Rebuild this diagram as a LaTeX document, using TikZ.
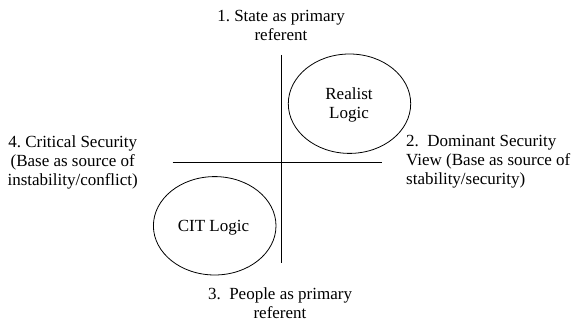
\documentclass[tikz,border=0pt]{standalone}
\usepackage{fontspec}
\setmainfont{Liberation Serif}
\usetikzlibrary{shapes.geometric}
\begin{document}\frenchspacing
\begin{tikzpicture}[x=1pt,y=1pt,
  lbl/.style={inner sep=0pt,anchor=base,font=\fontsize{17}{19.3}\selectfont},
  lblw/.style={lbl,anchor=base west},
  oval/.style={draw,ellipse,line width=0.8pt,inner sep=0pt},
  axis/.style={line width=0.8pt}]
\useasboundingbox (0,0) rectangle (574,324);
% axes
\coordinate (vt) at (281.7,269);
\coordinate (vb) at (281.7,60.7);
\coordinate (hl) at (172.7,161.7);
\coordinate (hr) at (381.7,161.7);
\draw[axis] (vt) -- (vb);
\draw[axis] (hl) -- (hr);
% ellipses
\node[oval,minimum width=122.4pt,minimum height=99.4pt] (realist) at (349.5,220.3) {};
\node[oval,minimum width=122.6pt,minimum height=98.4pt] (cit) at (214.7,98.2) {};
\node[lbl] (r1) at (349,224.5) {Realist};
\node[lbl] (r2) at (349,205.5) {Logic};
\node[lbl] (c1) at (213.5,92) {CIT Logic};
% top
\node[lbl] (t1) at (281,302.3) {1. State as primary};
\node[lbl] (t2) at (281,283.3) {referent};
% bottom
\node[lbl] (b1) at (280,24.5) {3.\ \ People as primary};
\node[lbl] (b2) at (280,5.5) {referent};
% left
\node[lbl] (l1) at (72.7,176.7) {4. Critical Security};
\node[lbl] (l2) at (72.7,157.3) {(Base as source of};
\node[lbl] (l3) at (72.7,138) {instability/conflict)};
% right
\node[lblw] (g1) at (406,177.3) {2.\ \ Dominant Security};
\node[lblw] (g2) at (406,158) {View (Base as source of};
\node[lblw] (g3) at (406,139) {stability/security)};
\end{tikzpicture}
\end{document}
